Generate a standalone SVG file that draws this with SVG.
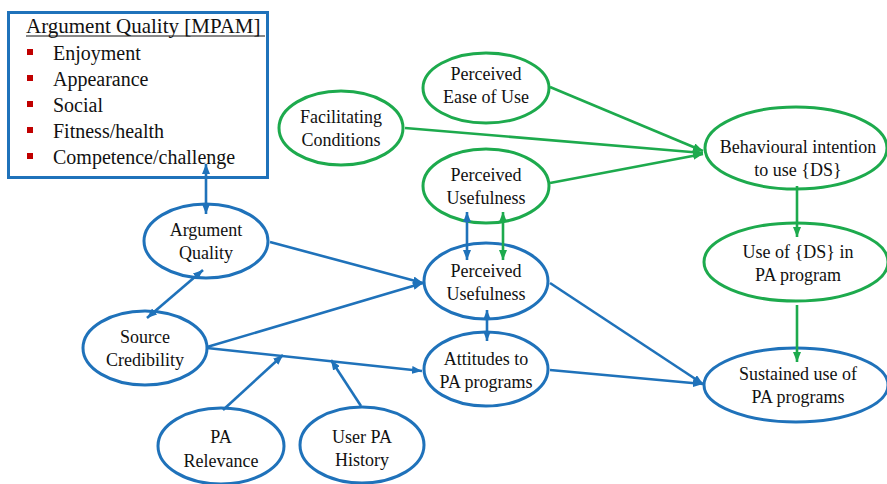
<svg xmlns="http://www.w3.org/2000/svg" width="887" height="484" viewBox="0 0 887 484">
<style>
.n text{font-size:18px;text-anchor:middle;}
.b ellipse{fill:#fff;stroke:#1F72BA;stroke-width:3;}
.g ellipse{fill:#fff;stroke:#1DAA4D;stroke-width:3;}
.cb{stroke:#1F72BA;stroke-width:2.6;fill:none;}
.cg{stroke:#1DAA4D;stroke-width:2.6;fill:none;}
.lst{font-size:20px;}
</style>
<defs>
<marker id="ab" viewBox="0 0 10 8" refX="10" refY="4" markerWidth="10" markerHeight="8" markerUnits="userSpaceOnUse" orient="auto-start-reverse"><path d="M0,0 L10,4 L0,8 z" fill="#1F72BA"/></marker>
<marker id="ag" viewBox="0 0 10 8" refX="10" refY="4" markerWidth="10" markerHeight="8" markerUnits="userSpaceOnUse" orient="auto-start-reverse"><path d="M0,0 L10,4 L0,8 z" fill="#1DAA4D"/></marker>
</defs>
<rect width="887" height="484" fill="#fff"/>
<g style="font-family:'Times New Roman','Liberation Serif',serif" fill="#111">
<g id="mpam-box">
<rect x="8.5" y="12.5" width="259" height="165" fill="#fff" stroke="#1F72BA" stroke-width="3"/>
<text x="26" y="33" font-size="21">Argument Quality [MPAM]</text>
<line x1="26" y1="36" x2="265" y2="36" stroke="#111" stroke-width="1"/>
<g fill="#C00000">
<rect x="27" y="49" width="6" height="6"/>
<rect x="27" y="75" width="6" height="6"/>
<rect x="27" y="101" width="6" height="6"/>
<rect x="27" y="127" width="6" height="6"/>
<rect x="27" y="153" width="6" height="6"/>
</g>
<text class="lst" x="53" y="60">Enjoyment</text>
<text class="lst" x="53" y="86">Appearance</text>
<text class="lst" x="53" y="112">Social</text>
<text class="lst" x="53" y="138">Fitness/health</text>
<text class="lst" x="53" y="164">Competence/challenge</text>
</g>

<g id="argument-quality" class="n b"><ellipse cx="206" cy="241" rx="62" ry="37"/><text x="206" y="236">Argument</text><text x="206" y="259">Quality</text></g>
<g id="source-credibility" class="n b"><ellipse cx="145" cy="348" rx="62" ry="37"/><text x="145" y="343">Source</text><text x="145" y="366">Credibility</text></g>
<g id="pa-relevance" class="n b"><ellipse cx="221" cy="446" rx="63" ry="38"/><text x="221" y="443">PA</text><text x="221" y="467">Relevance</text></g>
<g id="user-pa-history" class="n b"><ellipse cx="362" cy="445" rx="62" ry="38"/><text x="362" y="443">User PA</text><text x="362" y="466">History</text></g>
<g id="perceived-ease" class="n g"><ellipse cx="486" cy="88" rx="63" ry="35"/><text x="486" y="80">Perceived</text><text x="486" y="103">Ease of Use</text></g>
<g id="facilitating-conditions" class="n g"><ellipse cx="341" cy="128" rx="62" ry="37"/><text x="341" y="123">Facilitating</text><text x="341" y="146">Conditions</text></g>
<g id="perceived-usefulness-tam" class="n g"><ellipse cx="486" cy="186" rx="63" ry="37"/><text x="486" y="181">Perceived</text><text x="486" y="204">Usefulness</text></g>
<g id="perceived-usefulness" class="n b"><ellipse cx="486" cy="281" rx="62" ry="38"/><text x="486" y="277">Perceived</text><text x="486" y="300">Usefulness</text></g>
<g id="attitudes" class="n b"><ellipse cx="486" cy="369" rx="62" ry="37"/><text x="486" y="365">Attitudes  to</text><text x="486" y="388">PA programs</text></g>
<g id="behavioural-intention" class="n g"><ellipse cx="796" cy="148" rx="91" ry="41"/><text x="798" y="153">Behavioural  intention</text><text x="798" y="176">to use {DS}</text></g>
<g id="use-of-ds" class="n g"><ellipse cx="796" cy="262" rx="92" ry="39"/><text x="798" y="258">Use of {DS} in</text><text x="798" y="281">PA program</text></g>
<g id="sustained-use" class="n b"><ellipse cx="796" cy="385" rx="92" ry="37"/><text x="798" y="380">Sustained use of</text><text x="798" y="403">PA programs</text></g>
</g>

<g id="connectors">
<line class="cb" x1="206" y1="164" x2="206" y2="214" marker-start="url(#ab)" marker-end="url(#ab)"/>
<line class="cb" x1="203" y1="270" x2="147" y2="318" marker-start="url(#ab)" marker-end="url(#ab)"/>
<line class="cb" x1="270" y1="242" x2="423" y2="283" marker-end="url(#ab)"/>
<line class="cb" x1="207" y1="347" x2="423" y2="283" marker-end="url(#ab)"/>
<line class="cb" x1="207" y1="348" x2="422" y2="371" marker-end="url(#ab)"/>
<line class="cb" x1="223" y1="410" x2="283" y2="355" marker-end="url(#ab)"/>
<line class="cb" x1="361" y1="406" x2="331" y2="360" marker-end="url(#ab)"/>
<line class="cb" x1="467" y1="212" x2="467" y2="260" marker-start="url(#ab)" marker-end="url(#ab)"/>
<line class="cg" x1="503" y1="212" x2="503" y2="260" marker-start="url(#ag)" marker-end="url(#ag)"/>
<line class="cb" x1="487" y1="310" x2="487" y2="341" marker-start="url(#ab)" marker-end="url(#ab)"/>
<line class="cb" x1="550" y1="283" x2="703" y2="384" marker-end="url(#ab)"/>
<line class="cb" x1="550" y1="370" x2="703" y2="384" marker-end="url(#ab)"/>
<line class="cg" x1="550" y1="87" x2="703" y2="151" marker-end="url(#ag)"/>
<line class="cg" x1="405" y1="128" x2="703" y2="153" marker-end="url(#ag)"/>
<line class="cg" x1="550" y1="183" x2="703" y2="154" marker-end="url(#ag)"/>
<line class="cg" x1="797" y1="186" x2="797" y2="237" marker-end="url(#ag)"/>
<line class="cg" x1="797" y1="305" x2="797" y2="362" marker-end="url(#ag)"/>
</g>
</svg>
